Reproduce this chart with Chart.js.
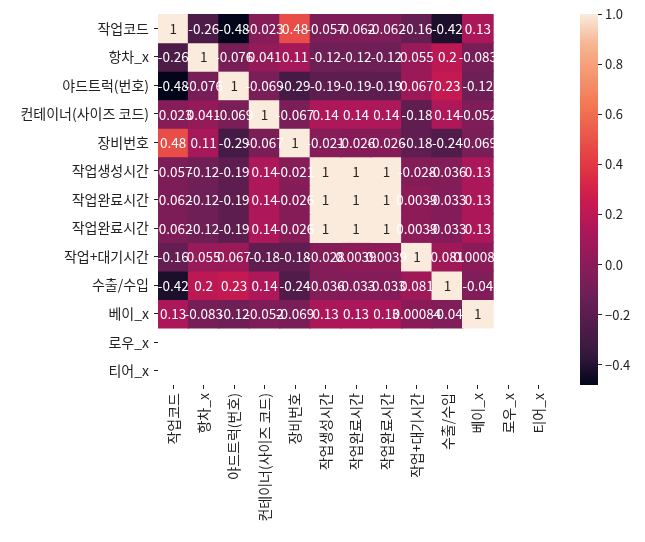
<!DOCTYPE html>
<html>
<head>
<meta charset="utf-8">
<script src="https://cdn.jsdelivr.net/npm/chart.js@4.4.1/dist/chart.umd.min.js"></script>
<style>
  html, body { margin: 0; padding: 0; background: #fff; }
  #wrap { position: relative; width: 645px; height: 542px; }
  canvas { position: absolute; left: 0; top: 0; }
  #cb { pointer-events: none; }
</style>
</head>
<body>
<div id="wrap">
  <canvas id="hm" width="645" height="542"></canvas>
  <canvas id="cb" width="645" height="542"></canvas>
</div>
<script>
// ---- data ----
const labels = ['작업코드', '항차_x', '야드트럭(번호)', '컨테이너(사이즈 코드)', '장비번호', '작업생성시간',
  '작업완료시간', '작업완료시간', '작업+대기시간', '수출/수입', '베이_x', '로우_x', '티어_x'];

const row0  = [1, -0.26, -0.48, -0.023, 0.48, -0.057, -0.062, -0.062, -0.16, -0.42, 0.13, null, null];
const row1  = [-0.26, 1, -0.076, 0.041, 0.11, -0.12, -0.12, -0.12, 0.055, 0.2, -0.083, null, null];
const row2  = [-0.48, -0.076, 1, -0.069, -0.29, -0.19, -0.19, -0.19, 0.067, 0.23, -0.12, null, null];
const row3  = [-0.023, 0.041, -0.069, 1, -0.067, 0.14, 0.14, 0.14, -0.18, 0.14, -0.052, null, null];
const row4  = [0.48, 0.11, -0.29, -0.067, 1, -0.021, -0.026, -0.026, -0.18, -0.24, -0.069, null, null];
const row5  = [-0.057, -0.12, -0.19, 0.14, -0.021, 1, 1, 1, -0.028, -0.036, 0.13, null, null];
const row6  = [-0.062, -0.12, -0.19, 0.14, -0.026, 1, 1, 1, 0.0039, -0.033, 0.13, null, null];
const row7  = [-0.062, -0.12, -0.19, 0.14, -0.026, 1, 1, 1, 0.0039, -0.033, 0.13, null, null];
const row8  = [-0.16, 0.055, 0.067, -0.18, -0.18, -0.028, 0.0039, 0.0039, 1, 0.081, 0.00084, null, null];
const row9  = [-0.42, 0.2, 0.23, 0.14, -0.24, -0.036, -0.033, -0.033, 0.081, 1, -0.04, null, null];
const row10 = [0.13, -0.083, -0.12, -0.052, -0.069, 0.13, 0.13, 0.13, 0.00084, -0.04, 1, null, null];
const row11 = [null, null, null, null, null, null, null, null, null, null, null, null, null];
const row12 = [null, null, null, null, null, null, null, null, null, null, null, null, null];
const rows = [row0, row1, row2, row3, row4, row5, row6, row7, row8, row9, row10, row11, row12];

const colorbarTicks = [-0.4, -0.2, 0.0, 0.2, 0.4, 0.6, 0.8, 1.0];
const vmin = -0.4806, vmax = 1.0;

// ---- rocket colormap (approx.) ----
const rocket = [
  [0.000, [3, 5, 26]],
  [0.083, [53, 25, 62]],
  [0.250, [112, 31, 87]],
  [0.417, [173, 23, 89]],
  [0.500, [203, 27, 79]],
  [0.583, [225, 51, 66]],
  [0.750, [243, 118, 81]],
  [0.917, [246, 180, 143]],
  [1.000, [250, 235, 221]]
];
function cmapRGB(t) {
  t = Math.max(0, Math.min(1, t));
  for (let i = 1; i < rocket.length; i++) {
    if (t <= rocket[i][0]) {
      const [t0, c0] = rocket[i - 1], [t1, c1] = rocket[i];
      const f = (t - t0) / (t1 - t0);
      return c0.map((c, k) => Math.round(c + (c1[k] - c) * f));
    }
  }
  return rocket[rocket.length - 1][1];
}
function colorOf(v) {
  const c = cmapRGB((v - vmin) / (vmax - vmin));
  return `rgb(${c[0]},${c[1]},${c[2]})`;
}
function lum(v) {
  const c = cmapRGB((v - vmin) / (vmax - vmin)).map(x => {
    x /= 255; return x <= 0.03928 ? x / 12.92 : Math.pow((x + 0.055) / 1.055, 2.4);
  });
  return 0.2126 * c[0] + 0.7152 * c[1] + 0.0722 * c[2];
}
function fmt(v) { return String(Number(v.toPrecision(2))); }

const FONT = '"Noto Sans CJK KR", "Noto Sans", sans-serif';
const idx = labels.map((_, i) => i);

const datasets = rows.map((r, ri) => ({
  data: r.map(v => v === null ? null : [ri - 0.5, ri + 0.5]),
  vals: r,
  backgroundColor: r.map(v => v === null ? 'rgba(0,0,0,0)' : colorOf(v)),
  borderWidth: 0,
  barPercentage: 1.0,
  categoryPercentage: 1.0,
  grouped: false,
  inflateAmount: 0.6
}));

const annot = {
  id: 'annot',
  afterDatasetsDraw(chart) {
    const ctx = chart.ctx;
    ctx.save();
    ctx.font = '13.5px ' + FONT;
    ctx.textAlign = 'center';
    ctx.textBaseline = 'middle';
    chart.data.datasets.forEach((ds, di) => {
      const meta = chart.getDatasetMeta(di);
      meta.data.forEach((el, ci) => {
        const v = ds.vals[ci];
        if (v === null) return;
        const yc = (el.y + el.base) / 2;
        ctx.fillStyle = lum(v) > 0.408 ? '#262626' : '#ffffff';
        ctx.fillText(fmt(v), el.x, yc + 0.5);
      });
    });
    ctx.restore();
  }
};

new Chart(document.getElementById('hm'), {
  type: 'bar',
  data: { labels: labels, datasets: datasets },
  plugins: [annot],
  options: {
    responsive: false,
    animation: false,
    layout: { padding: { top: 14, right: 91, bottom: 0, left: 0 } },
    plugins: { legend: { display: false }, tooltip: { enabled: false } },
    scales: {
      x: {
        type: 'category',
        border: { display: false },
        grid: { drawOnChartArea: false, drawTicks: true, tickLength: 4, color: '#222', lineWidth: 1, offset: false },
        ticks: { maxRotation: 90, minRotation: 90, autoSkip: false, color: '#222', padding: 4,
          font: { family: FONT, size: 14 } },
        afterFit(s) { s.height = 157; }
      },
      y: {
        type: 'linear',
        reverse: true,
        min: -0.5,
        max: 12.5,
        border: { display: false },
        grid: { drawOnChartArea: false, drawTicks: true, tickLength: 4, color: '#222', lineWidth: 1 },
        afterBuildTicks(s) { s.ticks = idx.map(v => ({ value: v })); },
        ticks: { autoSkip: false, color: '#222', padding: 5,
          font: { family: FONT, size: 14 },
          callback: (v) => labels[v] },
        afterFit(s) { s.width = 158; }
      }
    }
  }
});

// ---- colorbar ----
const cbGrad = (context) => {
  const chart = context.chart;
  const a = chart.chartArea;
  if (!a) return '#888';
  const ys = chart.scales.y;
  const g = chart.ctx.createLinearGradient(0, ys.getPixelForValue(vmin), 0, ys.getPixelForValue(vmax));
  for (let i = 0; i <= 40; i++) {
    const t = i / 40;
    const c = cmapRGB(t);
    g.addColorStop(t, `rgb(${c[0]},${c[1]},${c[2]})`);
  }
  return g;
};

new Chart(document.getElementById('cb'), {
  type: 'bar',
  data: { labels: [''], datasets: [{ data: [[vmin, vmax]], backgroundColor: cbGrad, borderWidth: 0,
    barPercentage: 1.0, categoryPercentage: 1.0, inflateAmount: 0 }] },
  options: {
    responsive: false,
    animation: false,
    layout: { padding: { top: 14, right: 0, bottom: 157, left: 580 } },
    plugins: { legend: { display: false }, tooltip: { enabled: false } },
    scales: {
      x: { display: false },
      y: {
        type: 'linear',
        position: 'right',
        min: vmin,
        max: vmax,
        border: { display: false },
        grid: { drawOnChartArea: false, drawTicks: true, tickLength: 4, color: '#222', lineWidth: 1 },
        afterBuildTicks(s) { s.ticks = colorbarTicks.map(v => ({ value: v })); },
        ticks: { color: '#222', padding: 3, font: { family: FONT, size: 13 },
          callback: (v) => (v < 0 ? '\u2212' : '') + Math.abs(v).toFixed(1) },
        afterFit(s) { s.width = 47; }
      }
    }
  }
});
</script>
</body>
</html>
